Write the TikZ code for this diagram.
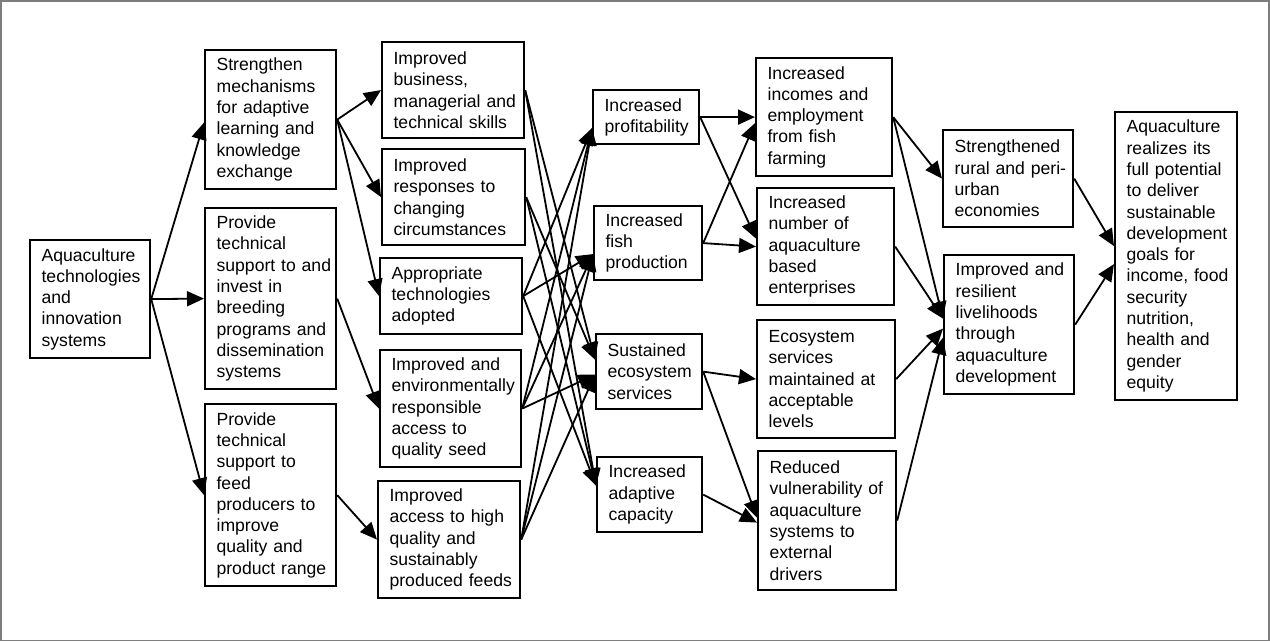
\documentclass[tikz,border=0pt]{standalone}
\usepackage{fontspec}
\setmainfont{Liberation Sans}
\usetikzlibrary{arrows.meta}
\definecolor{framegray}{RGB}{125,125,125}
\begin{document}
\begin{tikzpicture}[x=1pt,y=-1pt,
  box/.style={draw, line width=2.2pt, inner xsep=0pt, inner ysep=0pt,
    align=left, anchor=north west,
    font=\fontsize{17.6}{21.3}\selectfont,
    execute at begin node={\leftskip=11.5pt}},
  arr/.style={line width=1.8pt, -{Triangle[length=17pt,width=15pt]}}]
\useasboundingbox (0,0) rectangle (1270,642);
\draw[framegray, line width=1.2pt] (1,1) rectangle (1269,640.5);

% inputs
\node[box, text width=120pt, minimum height=118pt] (aq) at (29,239)
  {Aquaculture\\technologies\\and\\innovation\\systems};

% activities
\node[box, text width=131pt, minimum height=139pt] (s1) at (204,49)
  {Strengthen\\mechanisms\\for adaptive\\learning and\\knowledge\\exchange};
\node[box, text width=131pt, minimum height=181pt] (s2) at (204,207)
  {Provide\\technical\\support to and\\invest in\\breeding\\programs and\\dissemination\\systems};
\node[box, text width=131pt, minimum height=182pt] (s3) at (204,403)
  {Provide\\technical\\support to\\feed\\producers to\\improve\\quality and\\product range};

% outputs
\node[box, text width=142pt, minimum height=96pt] (o1) at (381,41)
  {Improved\\business,\\managerial and\\technical skills};
\node[box, text width=143pt, minimum height=96pt] (o2) at (381,148)
  {Improved\\responses to\\changing\\circumstances};
\node[box, text width=142pt, minimum height=76pt] (o3) at (379,257)
  {Appropriate\\technologies\\adopted};
\node[box, text width=141pt, minimum height=117pt] (o4) at (379,349)
  {Improved and\\environmentally\\responsible\\access to\\quality seed};
\node[box, text width=142pt, minimum height=117pt] (o5) at (377,480)
  {Improved\\access to high\\quality and\\sustainably\\produced feeds};

% immediate outcomes
\node[box, text width=106pt, minimum height=54pt] (p1) at (592,89)
  {Increased\\profitability};
\node[box, text width=108pt, minimum height=74pt] (p2) at (593,205)
  {Increased\\fish\\production};
\node[box, text width=106pt, minimum height=75pt] (p3) at (595,333)
  {Sustained\\ecosystem\\services};
\node[box, text width=105pt, minimum height=75pt] (p4) at (596,456)
  {Increased\\adaptive\\capacity};

% intermediate outcomes
\node[box, text width=136pt, minimum height=118pt] (q1) at (755,57)
  {Increased\\incomes and\\employment\\from fish\\farming};
\node[box, text width=137pt, minimum height=117pt] (q2) at (756,187)
  {Increased\\number of\\aquaculture\\based\\enterprises};
\node[box, text width=138pt, minimum height=118pt] (q3) at (756,319)
  {Ecosystem\\services\\maintained at\\acceptable\\levels};
\node[box, text width=138pt, minimum height=139pt] (q4) at (757,450)
  {Reduced\\vulnerability of\\aquaculture\\systems to\\external\\drivers};

% long-term outcomes
\node[box, text width=130pt, minimum height=97pt] (r1) at (942,129)
  {Strengthened\\rural and peri-\\urban\\economies};
\node[box, text width=130pt, minimum height=139pt] (r2) at (943,254)
  {Improved and\\resilient\\livelihoods\\through\\aquaculture\\development};

% impact
\node[box, text width=122pt, minimum height=288pt] (g) at (1114,111)
  {Aquaculture\\realizes its\\full potential\\to deliver\\sustainable\\development\\goals for\\income, food\\security\\nutrition,\\health and\\gender\\equity};

% connectors
\draw[arr] (aq.east) -- ([yshift=-3pt]s1.west);
\draw[arr] (aq.east) -- (s2.west);
\draw[arr] (aq.east) -- (s3.west);

\draw[arr] (s1.east) -- (o1.west);
\draw[arr] (s1.east) -- (o2.west);
\draw[arr] (s1.east) -- (o3.west);
\draw[arr] (s2.east) -- (o4.west);
\draw[arr] (s3.east) -- (o5.west);

\draw[arr] (o1.east) -- ([yshift=12pt]p3.west);
\draw[arr] (o1.east) -- ([yshift=9pt]p4.west);
\draw[arr] (o2.east) -- ([yshift=12pt]p3.west);
\draw[arr] (o2.east) -- ([yshift=9pt]p4.west);
\draw[arr] (o3.east) -- ([yshift=-11pt]p1.west);
\draw[arr] (o3.east) -- ([yshift=-11pt]p2.west);
\draw[arr] (o3.east) -- ([yshift=9pt]p4.west);
\draw[arr] (o4.east) -- ([yshift=-11pt]p1.west);
\draw[arr] (o4.east) -- ([yshift=-11pt]p2.west);
\draw[arr] (o4.east) -- ([yshift=-3pt]p3.west);
\draw[arr] (o5.east) -- ([yshift=-11pt]p1.west);
\draw[arr] (o5.east) -- ([yshift=-11pt]p2.west);
\draw[arr] (o5.east) -- ([yshift=-3pt]p3.west);

\draw[arr] (p1.east) -- (q1.west);
\draw[arr] (p1.east) -- ([yshift=8pt]q2.west);
\draw[arr] (p2.east) -- ([yshift=-6pt]q1.west);
\draw[arr] (p2.east) -- (q2.west);
\draw[arr] (p3.east) -- (q3.west);
\draw[arr] (p3.east) -- ([yshift=3pt]q4.west);
\draw[arr] (p4.east) -- ([yshift=-2pt]q4.west);

\draw[arr] (q1.east) -- (r1.west);
\draw[arr] (q1.east) -- ([yshift=6pt]r2.west);
\draw[arr] (q2.east) -- ([yshift=6pt]r2.west);
\draw[arr] (q3.east) -- ([yshift=-4pt]r2.west);
\draw[arr] (q4.east) -- ([yshift=-13pt]r2.west);

\draw[arr] (r1.east) -- ([yshift=10pt]g.west);
\draw[arr] (r2.east) -- ([yshift=-8pt]g.west);
\end{tikzpicture}
\end{document}
